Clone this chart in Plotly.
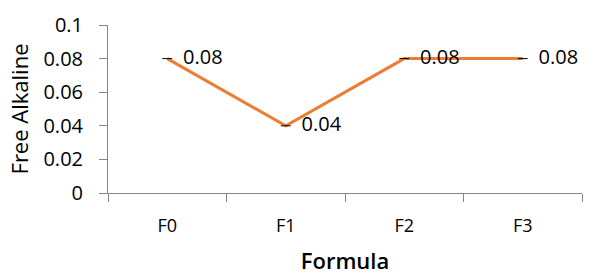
import plotly.graph_objects as go

categories = ["F0", "F1", "F2", "F3"]
free_alkaline = [0.08, 0.04, 0.08, 0.08]
y_ticks = [0, 0.02, 0.04, 0.06, 0.08, 0.1]
y_tick_labels = ["0", "0.02", "0.04", "0.06", "0.08", "0.1"]

FONT = "Open Sans, Noto Sans, sans-serif"
AX = "#868686"

fig = go.Figure()
fig.add_trace(go.Scatter(
    x=categories, y=free_alkaline,
    mode="lines+markers+text",
    line=dict(color="#ED7D31", width=3),
    marker=dict(symbol="line-ew", size=7, line=dict(color="black", width=1)),
    text=[f"{v:g}" for v in free_alkaline],
    texttemplate="  %{text}",
    textposition="middle right",
    textfont=dict(family=FONT, size=20, color="black"),
    cliponaxis=False,
))

fig.update_layout(
    width=605, height=279,
    margin=dict(l=108, r=23, t=25, b=86),
    paper_bgcolor="white", plot_bgcolor="white",
    showlegend=False,
    font=dict(family=FONT, color="black"),
)
fig.update_xaxes(
    type="category", range=[-0.5, 3.5], automargin=False,
    tickson="boundaries", ticks="outside", ticklen=8, tickcolor=AX,
    showline=True, linecolor=AX, linewidth=1, showgrid=False,
    tickfont=dict(size=18), ticklabelstandoff=16,
    title=dict(text="Formula", font=dict(size=22, weight=600), standoff=18),
)
fig.update_yaxes(
    range=[0, 0.1], tickvals=y_ticks, ticktext=y_tick_labels,
    ticks="outside", ticklen=8, tickcolor=AX,
    showline=True, linecolor=AX, linewidth=1, showgrid=False, zeroline=False,
    tickfont=dict(size=20), ticklabelstandoff=12,
    title=dict(text="Free Alkaline", font=dict(size=22), standoff=8),
)
fig.write_html("out.html")
